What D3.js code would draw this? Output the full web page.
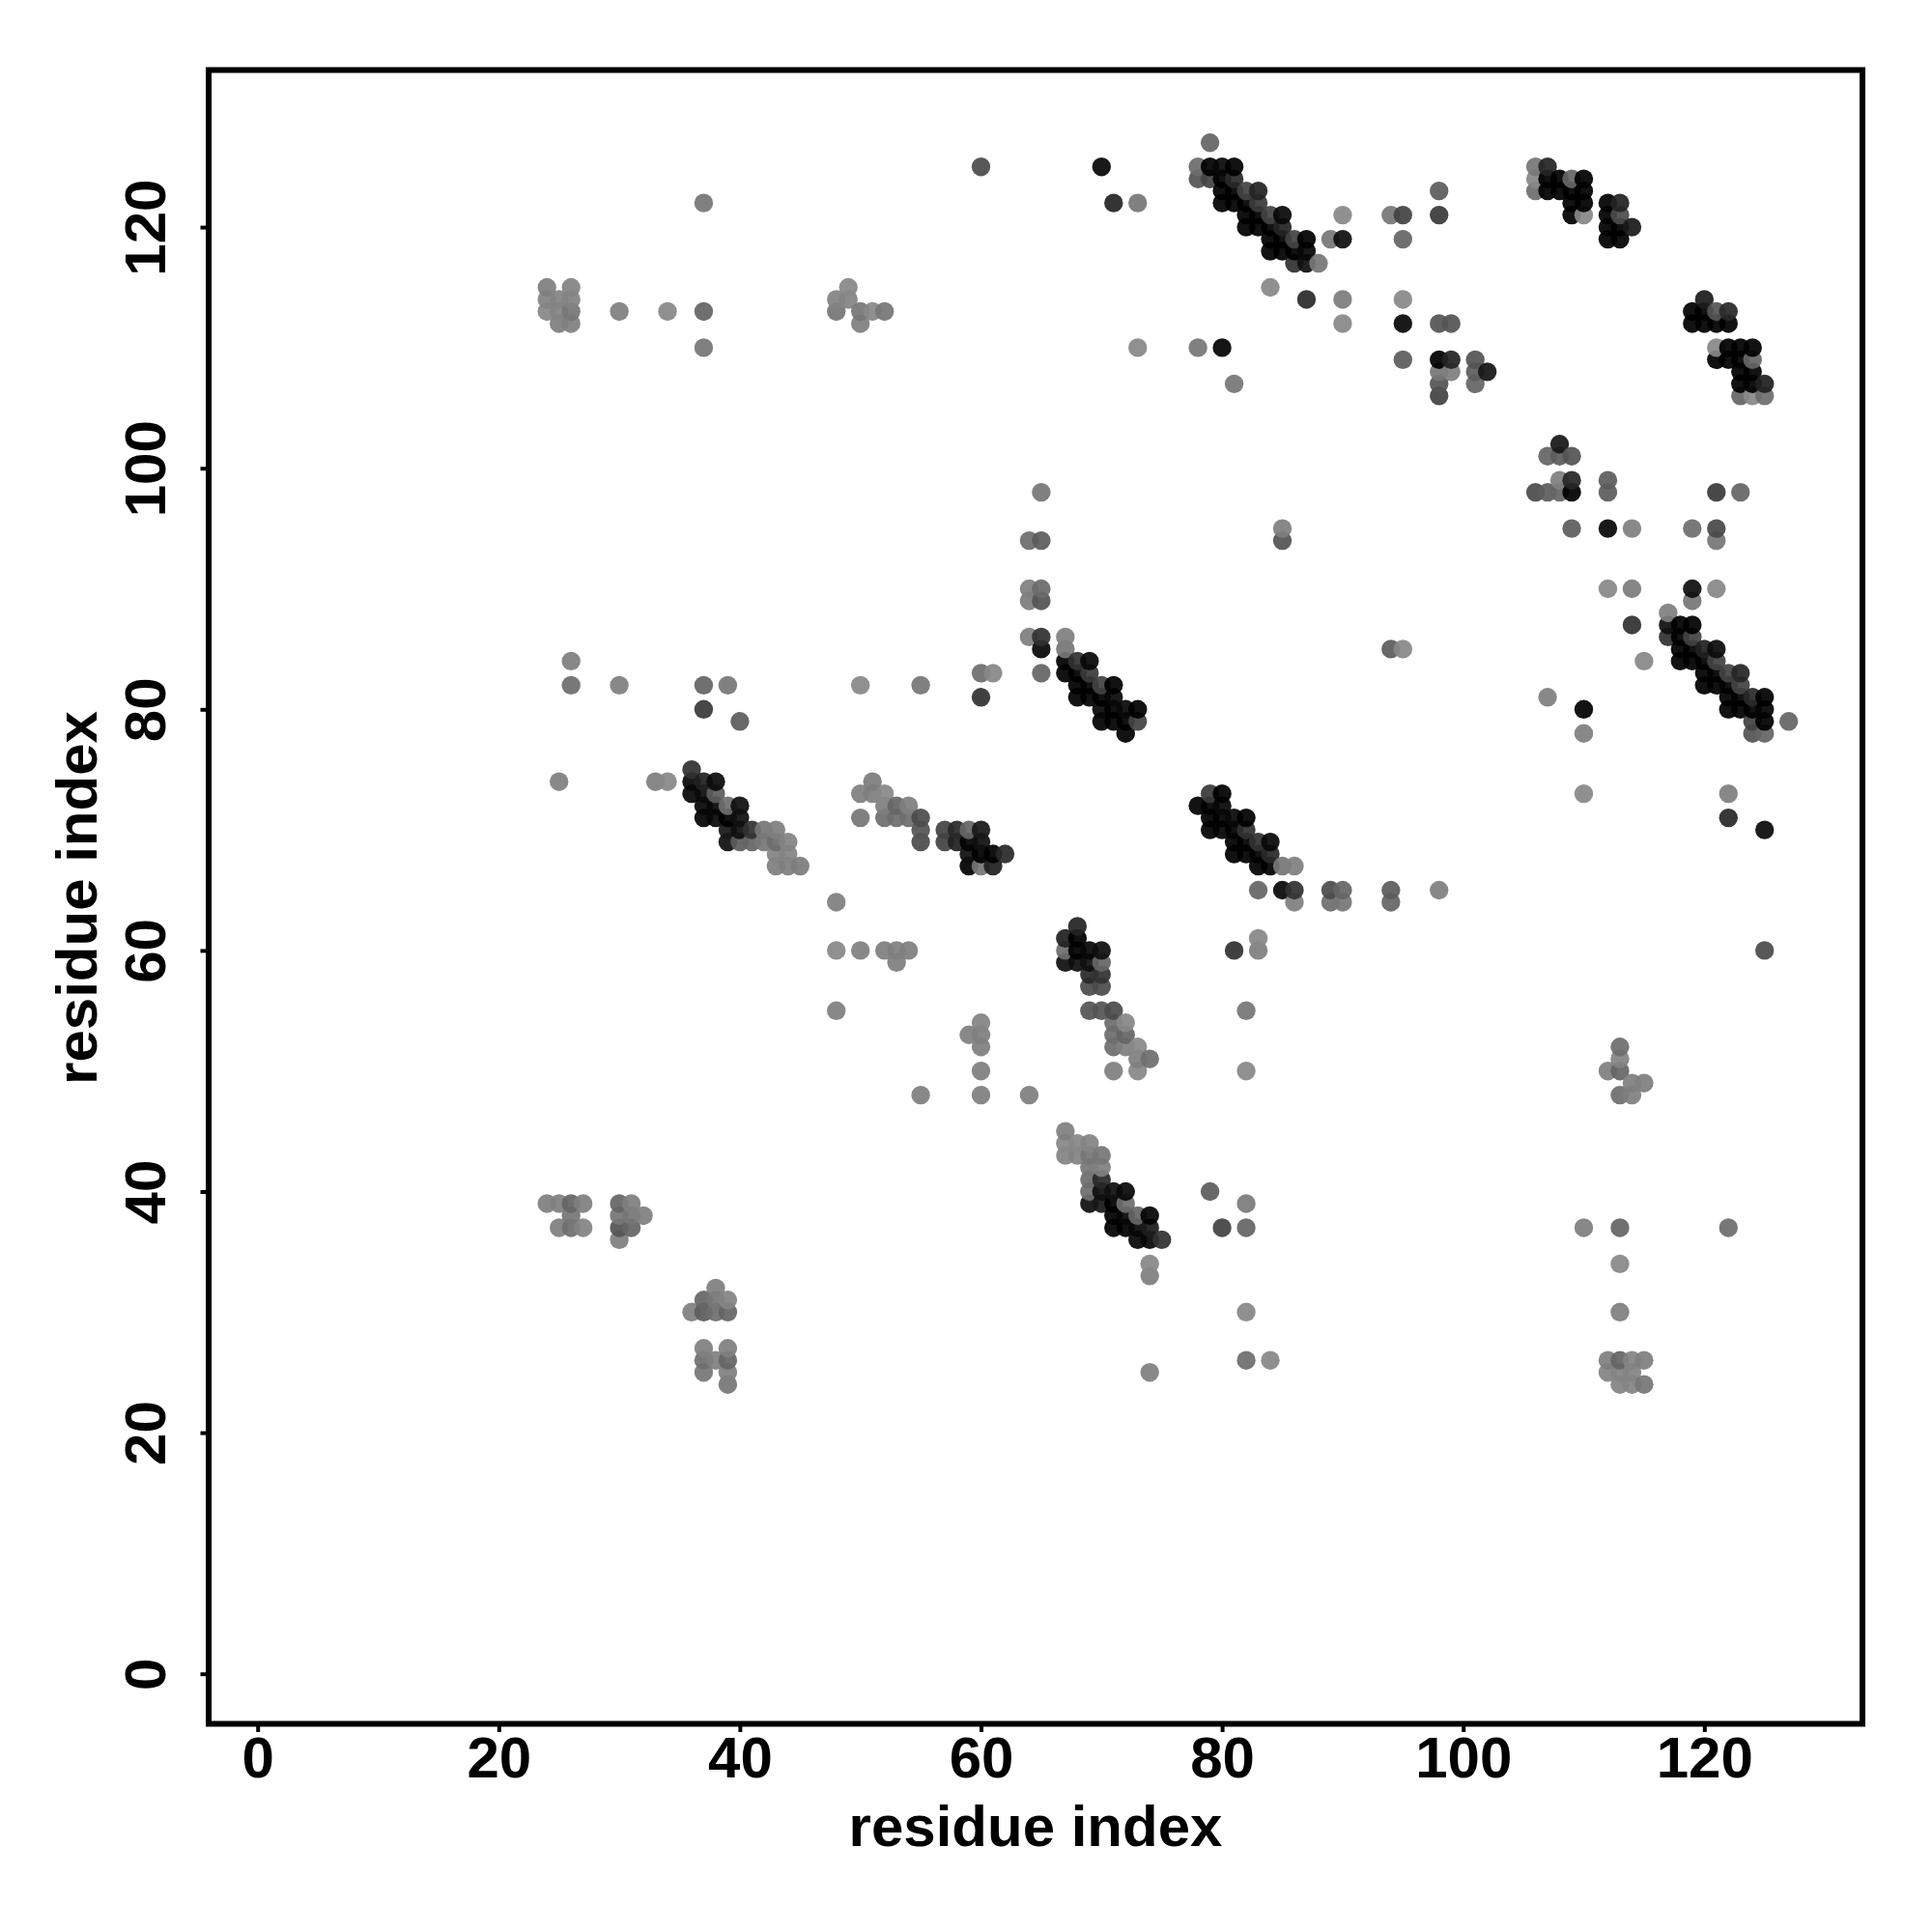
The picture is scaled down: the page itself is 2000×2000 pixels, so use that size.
<!DOCTYPE html>
<html><head><meta charset="utf-8">
<script src="https://cdn.jsdelivr.net/npm/d3@7"></script>
<style>html,body{margin:0;padding:0;background:#fff}svg{display:block}</style>
</head><body><svg id="c" width="2000" height="2000"></svg>
<script>
const axisLabel = "residue index";
const tickValues = [0,20,40,60,80,100,120];
const rowY = [127,125,124,123,122,121,120,119,118,117,115,114,113,112,110,109,108,107,106,102,101,99,98,95,94,90,89,88,87,86,85,84,83,82,81,80,79,78,75,74,73,72,71,70,69,68,67,65,64,62,61,60,59,58,57,55,54,53,52,51,50,49,48,45,44,43,42,41,40,39,38,37,36,34,33,32,31,30,27,26,25,24];
const rowX = [
[79],
[60,70,78,79,80,81,106,107],
[78,79,80,81,106,107,108,109,110],
[80,81,82,83,98,106,107,108,109,110],
[37,71,73,80,81,82,83,109,110,112,113],
[82,83,84,85,90,94,95,98,109,110,112,113],
[82,83,84,85,112,113,114],
[84,85,86,87,89,90,95,112,113],
[84,85,86,87],
[86,87,88],
[24,26,49,84],
[24,25,26,48,49,87,90,95,120],
[24,25,26,30,34,37,48,50,51,52,119,120,121,122],
[25,26,50,90,95,98,99,119,120,121,122],
[37,73,78,80,121,122,123,124],
[95,98,99,101,121,122,123,124],
[98,99,101,102,123,124],
[81,98,101,123,124,125],
[98,123,124,125],
[108],
[107,108,109],
[108,109,112],
[65,106,107,108,109,112,121,123],
[85,109,112,114,119,121],
[64,65,85,121],
[64,65,112,114,119,121],
[64,65,119],
[117],
[114,117,118,119],
[64,65,67,117,118,119],
[65,67,94,95,118,119,120,121],
[26,67,68,69,115,118,119,120,121],
[60,61,65,67,68,69,120,121,122,123],
[26,30,37,39,50,55,68,69,70,71,120,121,122,123],
[60,68,69,70,71,107,122,123,124,125],
[37,70,71,72,73,110,122,123,124,125],
[40,70,71,72,73,124,125,127],
[72,110,124,125],
[36],
[25,33,34,36,37,38,51],
[36,37,38,50,51,52,79,80,110,122],
[37,38,39,40,52,53,54,78,79,80],
[37,38,39,40,50,52,53,54,55,79,80,81,82,122],
[39,40,41,42,43,55,57,58,59,60,79,80,81,82,125],
[39,40,41,42,43,44,55,57,58,59,60,81,82,83,84],
[43,44,59,60,61,62,81,82,83,84],
[43,44,45,59,60,61,83,84,85,86],
[83,85,86,89,90,94,98],
[48,86,89,90,94],
[68],
[67,68,83],
[48,50,52,53,54,67,68,69,70,81,83,125],
[53,67,68,69,70],
[69,70],
[69,70],
[48,69,70,71,82],
[60,71,72],
[59,60,71,72],
[60,71,72,73,113],
[73,74,113],
[60,71,73,82,112,113],
[114,115],
[55,60,64,113,114],
[67],
[67,68,69],
[67,68,69,70],
[69,70],
[69,70],
[69,70,71,72,79],
[24,25,26,27,30,31,69,70,71,72,82],
[26,30,31,32,71,72,73,74],
[25,26,27,30,31,71,72,73,74,80,82,110,113,122],
[30,73,74,75],
[74,113],
[74],
[38],
[37,38,39],
[36,37,38,39,82,113],
[37,39],
[37,38,39,82,84,112,113,114,115],
[37,39,74,112,113,114],
[39,113,114,115]
];
const rowShade = [
[0x70],
[0x58,0x18,0x77,0x08,0x18,0x0c,0x80,0x33],
[0x60,0x50,0x10,0x38,0x90,0x08,0x08,0x70,0x08],
[0x10,0x10,0x50,0x33,0x68,0x78,0x08,0x08,0x08,0x08],
[0x80,0x35,0x80,0x08,0x08,0x08,0x48,0x08,0x08,0x0c,0x33],
[0x08,0x10,0x50,0x18,0x90,0x80,0x50,0x48,0x08,0x90,0x0c,0x58],
[0x08,0x08,0x10,0x33,0x08,0x0c,0x2a],
[0x08,0x08,0x50,0x08,0x80,0x20,0x70,0x08,0x08],
[0x08,0x10,0x10,0x18],
[0x40,0x20,0x80],
[0x88,0x8c,0x90,0x90],
[0x8c,0x8c,0x8c,0x8c,0x8c,0x3a,0x85,0x90,0x2c],
[0x90,0x8c,0x80,0x88,0x90,0x70,0x80,0x80,0x90,0x80,0x08,0x08,0x60,0x38],
[0x88,0x88,0x88,0x90,0x18,0x60,0x60,0x08,0x08,0x08,0x08],
[0x80,0x90,0x80,0x15,0x90,0x08,0x08,0x08],
[0x68,0x08,0x33,0x60,0x08,0x08,0x08,0x70],
[0x80,0x88,0x68,0x25,0x08,0x08],
[0x80,0x60,0x70,0x08,0x08,0x30],
[0x50,0x70,0x90,0x78],
[0x28],
[0x70,0x68,0x60],
[0x88,0x35,0x68],
[0x80,0x58,0x68,0x70,0x08,0x68,0x48,0x70],
[0x88,0x68,0x18,0x88,0x78,0x55],
[0x78,0x68,0x60,0x80],
[0x88,0x75,0x90,0x85,0x20,0x90],
[0x85,0x60,0x80],
[0x88],
[0x40,0x20,0x10,0x10],
[0x88,0x40,0x88,0x40,0x10,0x50],
[0x18,0x80,0x68,0x90,0x08,0x08,0x30,0x1c],
[0x88,0x08,0x40,0x18,0x90,0x08,0x08,0x08,0x50],
[0x78,0x90,0x70,0x0a,0x0c,0x48,0x08,0x08,0x50,0x35],
[0x78,0x88,0x70,0x80,0x90,0x80,0x0c,0x0c,0x50,0x05,0x08,0x08,0x08,0x50],
[0x40,0x08,0x08,0x08,0x18,0x88,0x08,0x08,0x38,0x0c],
[0x48,0x18,0x08,0x18,0x0c,0x10,0x08,0x08,0x10,0x15],
[0x68,0x08,0x0c,0x08,0x50,0x50,0x08,0x70],
[0x10,0x88,0x60,0x70],
[0x40],
[0x88,0x88,0x90,0x18,0x30,0x1c,0x85],
[0x18,0x1c,0x68,0x88,0x88,0x90,0x48,0x10,0x90,0x88],
[0x18,0x18,0x78,0x20,0x88,0x70,0x88,0x0c,0x0c,0x18],
[0x15,0x18,0x10,0x20,0x80,0x78,0x78,0x78,0x58,0x08,0x10,0x18,0x05,0x38],
[0x28,0x20,0x40,0x80,0x88,0x60,0x50,0x38,0x70,0x28,0x08,0x15,0x0c,0x40,0x1c],
[0x20,0x68,0x70,0x80,0x78,0x8c,0x58,0x50,0x30,0x15,0x20,0x10,0x10,0x40,0x18],
[0x8c,0x8c,0x20,0x08,0x10,0x38,0x08,0x08,0x10,0x38],
[0x88,0x88,0x85,0x10,0x80,0x30,0x08,0x08,0x80,0x88],
[0x70,0x18,0x40,0x58,0x70,0x68,0x88],
[0x88,0x88,0x78,0x80,0x70],
[0x33],
[0x30,0x0c,0x90],
[0x90,0x88,0x88,0x88,0x88,0x78,0x08,0x18,0x20,0x40,0x88,0x58],
[0x88,0x20,0x20,0x20,0x70],
[0x38,0x40],
[0x58,0x58],
[0x88,0x60,0x60,0x58,0x80],
[0x8c,0x78,0x90],
[0x88,0x88,0x78,0x70],
[0x88,0x78,0x88,0x90,0x78],
[0x88,0x78,0x8c],
[0x88,0x88,0x90,0x90,0x88,0x70],
[0x88,0x88],
[0x88,0x88,0x88,0x78,0x88],
[0x88],
[0x90,0x90,0x8c],
[0x8c,0x8c,0x80,0x80],
[0x80,0x88],
[0x78,0x38],
[0x78,0x20,0x20,0x18,0x68],
[0x88,0x88,0x70,0x88,0x70,0x88,0x20,0x28,0x10,0x78,0x85],
[0x80,0x80,0x80,0x88,0x10,0x18,0x70,0x15],
[0x88,0x78,0x8c,0x60,0x70,0x10,0x10,0x18,0x2c,0x50,0x70,0x88,0x70,0x78],
[0x88,0x18,0x18,0x40],
[0x90,0x90],
[0x88],
[0x88],
[0x70,0x80,0x8c],
[0x88,0x68,0x78,0x70,0x90,0x88],
[0x88,0x88],
[0x78,0x88,0x70,0x78,0x90,0x88,0x70,0x8c,0x88],
[0x80,0x88,0x88,0x8c,0x8c,0x8c],
[0x80,0x8c,0x8c,0x80]
];

const ALPHA = 0.93;
const points = rowY.flatMap((y,i)=>rowX[i].map((x,j)=>({x,y,shade:rowShade[i][j]})))
  .sort((a,b)=>d3.ascending(a.x,b.x)||d3.ascending(a.y,b.y));

const box = {left:216,right:1928,top:72.5,bottom:1784.5};
const xScale = d3.scaleLinear().domain([0,125]).range([266.7,266.7+125*12.48]);
const yScale = d3.scaleLinear().domain([0,125]).range([1732.7,1732.7-125*12.48]);
const svg = d3.select("#c");
const FONT = "'Liberation Sans',Arial,Helvetica,sans-serif";

svg.append("g").selectAll("circle").data(points).join("circle")
  .attr("cx",d=>xScale(d.x)).attr("cy",d=>yScale(d.y)).attr("r",9.7)
  .attr("fill",d=>{const g=Math.max(0,Math.round((d.shade-255*(1-ALPHA))/ALPHA));return d3.rgb(g,g,g).formatHex();})
  .attr("fill-opacity",ALPHA);

svg.append("rect").attr("x",box.left).attr("y",box.top)
  .attr("width",box.right-box.left).attr("height",box.bottom-box.top)
  .attr("fill","none").attr("stroke","#000").attr("stroke-width",6);

const gx = svg.append("g").attr("transform",`translate(0,${box.bottom})`)
  .call(d3.axisBottom(xScale).tickValues(tickValues).tickSizeOuter(0).tickSize(8.5).tickPadding(0));
gx.select(".domain").remove();
gx.selectAll("line").attr("stroke","#000").attr("stroke-width",4);
gx.selectAll("text").attr("y",55).attr("dy",0).attr("font-family",FONT).attr("font-weight","bold").attr("font-size",60).attr("fill","#000");

const gy = svg.append("g").attr("transform",`translate(${box.left},0)`)
  .call(d3.axisLeft(yScale).tickValues(tickValues).tickSizeOuter(0).tickSize(8.5).tickPadding(0));
gy.select(".domain").remove();
gy.selectAll("line").attr("stroke","#000").attr("stroke-width",4);
gy.selectAll("text")
  .attr("x",0).attr("y",0).attr("dy",0)
  .attr("transform","translate(-45,0) rotate(-90)")
  .attr("text-anchor","middle")
  .attr("font-family",FONT).attr("font-weight","bold").attr("font-size",60).attr("fill","#000");

svg.append("text").attr("x",(box.left+box.right)/2).attr("y",1911)
  .attr("text-anchor","middle").attr("font-family",FONT).attr("font-weight","bold").attr("font-size",60).text(axisLabel);
svg.append("text").attr("transform",`translate(100,${(box.top+box.bottom)/2+1}) rotate(-90)`)
  .attr("text-anchor","middle").attr("font-family",FONT).attr("font-weight","bold").attr("font-size",60).text(axisLabel);
</script></body></html>
